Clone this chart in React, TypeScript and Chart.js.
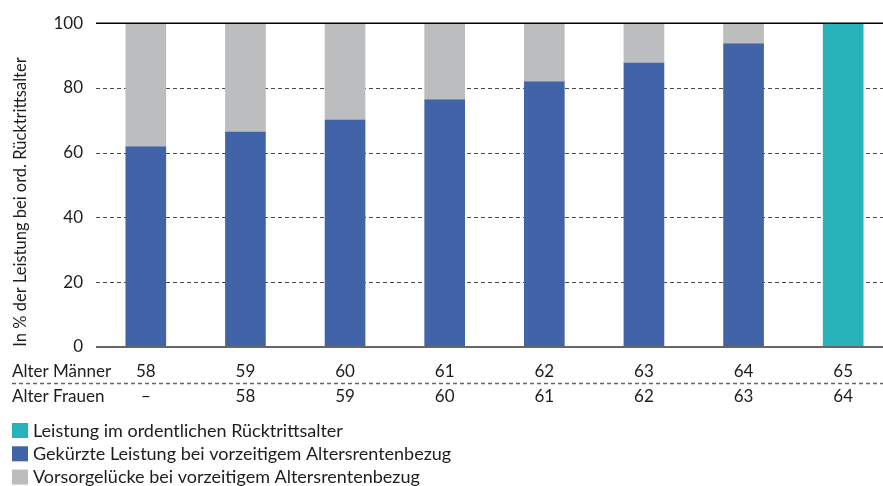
import React, { useEffect, useRef } from "react";
import { Chart, registerables } from "chart.js";

Chart.register(...registerables);

const ageMen = ["58", "59", "60", "61", "62", "63", "64", "65"];
const ageWomen = ["–", "58", "59", "60", "61", "62", "63", "64"];
const reducedBenefit = [61.8, 66.4, 70.1, 76.3, 81.9, 87.7, 93.6, null];
const pensionGap = [38.2, 33.6, 29.9, 23.7, 18.1, 12.3, 6.4, null];
const regularBenefit = [null, null, null, null, null, null, null, 100];
const yTicks = [0, 20, 40, 60, 80, 100];

const rowLabelMen = "Alter Männer";
const rowLabelWomen = "Alter Frauen";
const yTitle = "In % der Leistung bei ord. Rücktrittsalter";

const labelRegular = "Leistung im ordentlichen Rücktrittsalter";
const labelReduced = "Gekürzte Leistung bei vorzeitigem Altersrentenbezug";
const labelGap = "Vorsorgelücke bei vorzeitigem Altersrentenbezug";

const COLOR_TEAL = "#27b3b9";
const COLOR_BLUE = "#4163a8";
const COLOR_GRAY = "#bcbdbf";
const TEXT = "#1d1d1b";
const FONT = "Lato, 'Open Sans', sans-serif";

const VIEW_W = 883;
const VIEW_H = 486;
const CANVAS_W = 893;

export default function App() {
  const ref = useRef<HTMLCanvasElement>(null);

  useEffect(() => {
    const canvas = ref.current;
    if (!canvas) return;

    const overlay = {
      id: "overlay",
      beforeDatasetsDraw(chart: any) {
        const { ctx, chartArea } = chart;
        const y = chart.scales.y;
        ctx.save();
        ctx.strokeStyle = "#4a4a4a";
        ctx.lineWidth = 1;
        ctx.setLineDash([4, 3]);
        for (const v of yTicks) {
          if (v === 0 || v === 100) continue;
          const py = Math.round(y.getPixelForValue(v)) + 0.5;
          ctx.beginPath();
          ctx.moveTo(chartArea.left, py);
          ctx.lineTo(CANVAS_W, py);
          ctx.stroke();
        }
        ctx.restore();
      },
      afterDatasetsDraw(chart: any) {
        const { ctx, chartArea } = chart;
        const y = chart.scales.y;
        const x = chart.scales.x;
        ctx.save();
        // top line
        ctx.setLineDash([]);
        ctx.strokeStyle = "#000";
        ctx.lineWidth = 1.5;
        let py = y.getPixelForValue(100);
        ctx.beginPath();
        ctx.moveTo(chartArea.left, py);
        ctx.lineTo(CANVAS_W, py);
        ctx.stroke();
        // zero line
        ctx.strokeStyle = "#666";
        ctx.lineWidth = 2;
        py = y.getPixelForValue(0);
        ctx.beginPath();
        ctx.moveTo(chartArea.left, py);
        ctx.lineTo(CANVAS_W, py);
        ctx.stroke();

        // y title
        ctx.fillStyle = TEXT;
        ctx.font = `16.5px ${FONT}`;
        ctx.textAlign = "center";
        ctx.textBaseline = "middle";
        ctx.save();
        ctx.translate(21, 202);
        ctx.rotate(-Math.PI / 2);
        ctx.fillText(yTitle, 0, 0);
        ctx.restore();

        // table rows
        const rowMenY = 372;
        const rowWomenY = 397;
        ctx.font = `17px ${FONT}`;
        ctx.textAlign = "left";
        ctx.fillText(rowLabelMen, 12, rowMenY);
        ctx.fillText(rowLabelWomen, 12, rowWomenY);
        ctx.textAlign = "center";
        ageMen.forEach((lab, i) => {
          const px = x.getPixelForValue(i);
          ctx.fillText(lab, px, rowMenY);
          ctx.fillText(ageWomen[i], px, rowWomenY);
        });
        ctx.strokeStyle = "#666";
        ctx.lineWidth = 1.5;
        ctx.setLineDash([4, 3]);
        ctx.beginPath();
        ctx.moveTo(12, 383.5);
        ctx.lineTo(CANVAS_W, 383.5);
        ctx.stroke();
        ctx.setLineDash([]);

        // legend
        const items = [
          [labelRegular, COLOR_TEAL],
          [labelReduced, COLOR_BLUE],
          [labelGap, COLOR_GRAY],
        ];
        ctx.font = `18px ${FONT}`;
        ctx.textAlign = "left";
        items.forEach(([lab, col], i) => {
          const cy = 431 + i * 23.3;
          ctx.fillStyle = col;
          ctx.fillRect(12, cy - 8, 16, 15);
          ctx.fillStyle = TEXT;
          ctx.fillText(lab, 33, cy);
        });
        ctx.restore();
      },
    };

    const chart = new Chart(canvas, {
      type: "bar",
      data: {
        labels: ageMen,
        datasets: [
          {
            label: labelReduced,
            data: reducedBenefit,
            backgroundColor: COLOR_BLUE,
            stack: "s",
          },
          {
            label: labelGap,
            data: pensionGap,
            backgroundColor: COLOR_GRAY,
            stack: "s",
          },
          {
            label: labelRegular,
            data: regularBenefit,
            backgroundColor: COLOR_TEAL,
            stack: "s",
          },
        ],
      },
      options: {
        responsive: false,
        animation: false,
        devicePixelRatio: 1,
        layout: { padding: { top: 23, bottom: 139, left: 0, right: 0 } },
        plugins: {
          legend: { display: false },
          tooltip: { enabled: false },
        },
        datasets: {
          bar: { barThickness: 40, borderWidth: 0 },
        },
        scales: {
          x: {
            stacked: true,
            display: false,
            offset: true,
            grid: { display: false },
          },
          y: {
            stacked: true,
            min: 0,
            max: 100,
            afterFit: (scale: any) => {
              scale.width = 96;
            },
            grid: { display: false, drawTicks: false },
            border: { display: false },
            ticks: {
              stepSize: 20,
              padding: 13,
              color: TEXT,
              font: { family: FONT, size: 17 },
            },
          },
        },
      },
      plugins: [overlay],
    });

    return () => chart.destroy();
  }, []);

  return (
    <div
      style={{
        position: "fixed",
        left: 0,
        top: 0,
        width: VIEW_W,
        height: VIEW_H,
        overflow: "hidden",
        background: "#fff",
      }}
    >
      <canvas
        ref={ref}
        width={CANVAS_W}
        height={VIEW_H}
        style={{ display: "block", width: CANVAS_W, height: VIEW_H }}
      />
    </div>
  );
}
